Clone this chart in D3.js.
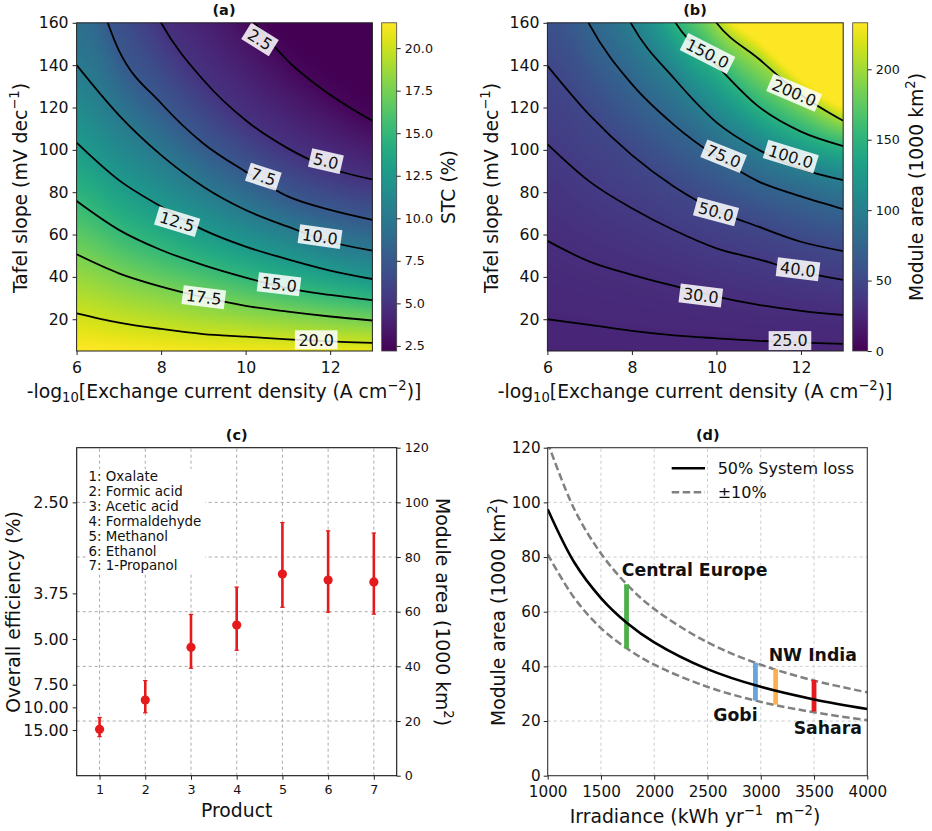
<!DOCTYPE html>
<html>
<head>
<meta charset="utf-8">
<script src="https://cdnjs.cloudflare.com/ajax/libs/d3/7.8.5/d3.min.js"></script>
<style>
  html, body { margin: 0; padding: 0; background: #fff; }
  svg { display: block; }
  text { font-family: "DejaVu Sans", sans-serif; fill: #111; }
  .axis path, .axis line { stroke: #222; stroke-width: 1; }
</style>
</head>
<body>
<svg id="chart" width="932" height="831"></svg>
<script>
// contour positions: Tafel slope at each exchange current
var exchange = [6, 7, 8, 9, 10, 11, 12, 13];

var stcEdgeTop = [0, 0, 0, 0, 0, 0, 0, 0];
var stc200 = [22.8, 18.4, 15.4, 13, 11.8, 10.5, 9.5, 8.8];
var stc175 = [50.7, 41.7, 35.4, 30.4, 26.3, 23.6, 21.3, 19.4];
var stc150 = [75.8, 62.2, 52.7, 45.6, 39.7, 34.6, 31.5, 29];
var stc125 = [103.4, 85.7, 73.2, 62.2, 54.3, 48.3, 43, 39];
var stc100 = [140, 116.4, 97.5, 82.6, 71.6, 63.7, 56.6, 52.4];
var stc75 = [205, 147, 122, 103, 89.7, 78, 71.6, 66.9];
var stc50 = [255, 205, 160, 133, 114, 100.7, 91.3, 86];
var stc25 = [330, 280, 235, 200, 166, 142, 126, 113.7];
var stcEdgeLow = [345, 295, 250, 215, 181, 157, 141, 127];

var stcLevels = [22, 20, 17.5, 15, 12.5, 10, 7.5, 5, 2.5, 2.2];
var stcLines = [stcEdgeTop, stc200, stc175, stc150, stc125, stc100, stc75, stc50, stc25, stcEdgeLow];
var stcLabelAt = [null, 11.67, 9.01, 10.79, 8.38, 11.76, 10.42, 11.9, 10.34, null];
var stcLabelY = [null, 10.3, 30.4, 36.5, 66.1, 59, 87.3, 94.7, 152.1, null];
var stcLabelAngle = [null, 0, 7, 7, 17, 8, 18, 13, 32, null];
var stcTicks = [2.5, 5, 7.5, 10, 12.5, 15, 17.5, 20];

var areaEdgeLow = [0, 0, 0, 0, 0, 0, 0, 0];
var area25 = [20, 17.3, 14.5, 12.4, 11, 9.8, 9, 8.4];
var area30 = [57, 47.2, 41, 35.7, 30.7, 26.8, 24, 22];
var area40 = [102.7, 85, 72.4, 62, 53.5, 48.3, 42.5, 38.6];
var area50 = [139.7, 116.4, 97.5, 82.6, 71.3, 63.7, 56.6, 52.2];
var area75 = [205, 159, 131, 111.7, 96.8, 85, 78, 72];
var area100 = [250, 205, 159, 133.7, 113, 100, 91, 85.7];
var area150 = [310, 260, 205, 161, 140, 120.4, 108.6, 101.8];
var area200 = [330, 280, 235, 195, 160, 143, 126, 113.7];
var areaEdgeHigh = [342, 292, 247, 207, 168, 151, 133, 120];

var areaLevels = [22.7, 25, 30, 40, 50, 75, 100, 150, 200, 233];
var areaLines = [areaEdgeLow, area25, area30, area40, area50, area75, area100, area150, area200, areaEdgeHigh];
var areaLabelAt = [null, 11.74, 9.63, 11.93, 9.99, 10.17, 11.76, 9.79, 11.84, null];
var areaLabelY = [null, 9.9, 31.2, 43.6, 70.8, 97, 96.8, 145.5, 127, null];
var areaLabelAngle = [null, 0, 7, 7, 15, 22, 17, 27, 23, null];
var areaTicks = [0, 50, 100, 150, 200];

var products = [1, 2, 3, 4, 5, 6, 7];
var productNames = ['1: Oxalate', '2: Formic acid', '3: Acetic acid', '4: Formaldehyde', '5: Methanol', '6: Ethanol', '7: 1-Propanol'];
var productArea = [17, 27.7, 47, 55.1, 73.8, 71.6, 70.9];
var productHigh = [21.3, 34.8, 59, 69, 92.6, 89.6, 88.8];
var productLow = [14.3, 23, 39.3, 45.9, 61.6, 59.8, 59.1];
var efficiencyLabels = ['2.50', '3.75', '5.00', '7.50', '10.00', '15.00'];
var efficiencyAreas = [100, 66.7, 50, 33.3, 25, 16.7];

var irradiance = [1000, 1250, 1500, 1750, 2000, 2500, 3000, 3500, 4000];
var lossMid = [97.5, 78, 65, 55.7, 48.8, 39, 32.5, 27.9, 24.4];
var lossHigh = [121.9, 97.5, 81.3, 69.7, 61, 48.8, 40.6, 34.8, 30.5];
var lossLow = [81, 65, 54, 46.4, 40.6, 32.5, 27, 23.2, 20.3];

var regions = ['Central Europe', 'Gobi', 'NW India', 'Sahara'];
var regionIrradiance = [1740, 2950, 3140, 3500];
var regionHigh = [70, 41.3, 39, 35];
var regionLow = [46.5, 27.5, 26, 23.5];
var regionColors = ['#4daf4a', '#65a5dc', '#fdb050', '#e41a1c'];
var regionLabelX = [1695, 2554, 3074, 3309];
var regionLabelY = [73.2, 20, 42, 15.1];

var labelSize = 18.8;
var svg = d3.select('#chart');

// rich text: [string, 'sup' | 'sub' | undefined]
var putLabel = function(x, y, rotate, size, parts, weight) {
    var t = svg.append('text')
        .attr('transform', 'translate(' + x + ',' + y + ') rotate(' + rotate + ')')
        .attr('text-anchor', 'middle')
        .style('font-size', size + 'px');
    if (weight) t.style('font-weight', weight);
    var shift = 0;
    parts.forEach(function(p) {
        var want = p[1] === 'sup' ? -size * 0.42 : p[1] === 'sub' ? size * 0.22 : 0;
        var span = t.append('tspan').text(p[0]).attr('dy', want - shift);
        if (p[1]) span.style('font-size', (size * 0.7) + 'px');
        shift = want;
    });
    return t;
};

var styleAxis = function(g, size) {
    g.attr('class', 'axis');
    g.selectAll('text').style('font-size', size + 'px');
    return g;
};

// same spline as d3.curveCatmullRom.alpha(0), for reading a contour between columns
var splineAt = function(line, xv) {
    var u = Math.max(0, Math.min(line.length - 1.0001, xv - exchange[0]));
    var i = Math.floor(u), t = u - i;
    var p0 = line[Math.max(i - 1, 0)], p1 = line[i], p2 = line[i + 1], p3 = line[Math.min(i + 2, line.length - 1)];
    return 0.5 * (2 * p1 + (p2 - p0) * t + (2 * p0 - 5 * p1 + 4 * p2 - p3) * t * t + (3 * p1 - p0 - 3 * p2 + p3) * t * t * t);
};

var heatPanel = function(opt) {
    var x = d3.scaleLinear().domain([6, 13]).range([opt.left, opt.left + 295.8]);
    var y = d3.scaleLinear().domain([5, 160]).range([351, 22.8]);
    var color = d3.scaleSequential(d3.interpolateViridis).domain(opt.range);

    // paint the field into a canvas, with a margin so the blur keeps solid edges
    var w = 296, h = 328, pad = 12;
    var canvas = document.createElement('canvas');
    canvas.width = w + pad * 2;
    canvas.height = h + pad * 2;
    var ctx = canvas.getContext('2d');
    var img = ctx.createImageData(canvas.width, canvas.height);
    for (var i = 0; i < canvas.width; i++) {
        var xv = 6 + 7 * (i - pad + 0.5) / w;
        var ys = opt.lines.map(function(l) { return splineAt(l, xv); });
        var field = d3.scaleLinear().domain(ys).range(opt.levels).clamp(true);
        for (var j = 0; j < canvas.height; j++) {
            var yv = 160 - 155 * (j - pad + 0.5) / h;
            var c = d3.rgb(color(Math.max(opt.range[0], Math.min(opt.range[1], field(yv)))));
            var k = (j * canvas.width + i) * 4;
            img.data[k] = c.r;
            img.data[k + 1] = c.g;
            img.data[k + 2] = c.b;
            img.data[k + 3] = 255;
        }
    }
    ctx.putImageData(img, 0, 0);

    var smooth = document.createElement('canvas');
    smooth.width = w;
    smooth.height = h;
    var sctx = smooth.getContext('2d');
    sctx.filter = 'blur(' + opt.blur + 'px)';
    sctx.drawImage(canvas, -pad, -pad);

    svg.append('image')
        .attr('x', x(6)).attr('y', y(160))
        .attr('width', x(13) - x(6)).attr('height', y(5) - y(160))
        .attr('preserveAspectRatio', 'none')
        .attr('href', smooth.toDataURL());

    var clipId = 'clip' + opt.name;
    svg.append('clipPath').attr('id', clipId).append('rect')
        .attr('x', x(6)).attr('y', y(160))
        .attr('width', x(13) - x(6)).attr('height', y(5) - y(160));

    var holder = svg.append('g').attr('clip-path', 'url(#' + clipId + ')');
    var line = d3.line()
        .x(function(d, i) { return x(exchange[i]); })
        .y(function(d) { return y(d); })
        .curve(d3.curveCatmullRom.alpha(0));

    opt.lines.forEach(function(l, n) {
        if (opt.labelAt[n] === null) return;
        holder.append('path').attr('d', line(l))
            .attr('fill', 'none').attr('stroke', '#000').attr('stroke-width', 1.8);
    });

    opt.lines.forEach(function(l, n) {
        if (opt.labelAt[n] === null) return;
        var g = holder.append('g')
            .attr('transform', 'translate(' + x(opt.labelAt[n]) + ',' + y(opt.labelY[n]) + ') rotate(' + opt.labelAngle[n] + ')');
        var rect = g.append('rect').attr('fill', '#fff').attr('opacity', 0.86);
        var t = g.append('text').text(d3.format('.1f')(opt.levels[n]))
            .attr('text-anchor', 'middle').attr('dy', '0.36em')
            .style('font-size', '16px').style('fill', '#111');
        var len = t.node().getComputedTextLength();
        rect.attr('x', -len / 2 - 3.5).attr('y', -9.5).attr('width', len + 7).attr('height', 19);
    });

    svg.append('rect').attr('x', x(6)).attr('y', y(160))
        .attr('width', x(13) - x(6)).attr('height', y(5) - y(160))
        .attr('fill', 'none').attr('stroke', '#222');

    svg.append('g').attr('transform', 'translate(0,351)')
        .call(d3.axisBottom(x).tickValues([6, 8, 10, 12]).tickFormat(d3.format('d')).tickSize(4).tickPadding(7))
        .call(styleAxis, 15.7).select('.domain').remove();
    svg.append('g').attr('transform', 'translate(' + x(6) + ',0)')
        .call(d3.axisLeft(y).tickValues([20, 40, 60, 80, 100, 120, 140, 160]).tickSize(4).tickPadding(4))
        .call(styleAxis, 15.7).select('.domain').remove();

    // colour bar
    var bar = d3.scaleLinear().domain(opt.range).range([351, 22.8]);
    var gradId = 'grad' + opt.name;
    var grad = svg.append('linearGradient').attr('id', gradId)
        .attr('x1', 0).attr('y1', 1).attr('x2', 0).attr('y2', 0);
    d3.range(0, 1.001, 0.05).forEach(function(f) {
        grad.append('stop').attr('offset', f)
            .attr('stop-color', color(opt.range[0] + f * (opt.range[1] - opt.range[0])));
    });
    svg.append('rect').attr('x', opt.barLeft).attr('y', 22.8).attr('width', 15).attr('height', 328.2)
        .attr('fill', 'url(#' + gradId + ')').attr('stroke', '#444').attr('stroke-width', 0.8);
    svg.append('g').attr('transform', 'translate(' + (opt.barLeft + 15) + ',0)')
        .call(d3.axisRight(bar).tickValues(opt.ticks).tickFormat(d3.format(opt.tickFormat)).tickSize(4).tickPadding(4))
        .call(styleAxis, 12.7).select('.domain').remove();
};

heatPanel({
    name: 'a', left: 76.6, barLeft: 381.7, range: [2.2, 21.49], blur: 3,
    levels: stcLevels, lines: stcLines, labelAt: stcLabelAt, labelY: stcLabelY, labelAngle: stcLabelAngle,
    ticks: stcTicks, tickFormat: '.1f'
});
heatPanel({
    name: 'b', left: 547.4, barLeft: 852.7, range: [0, 233], blur: 2,
    levels: areaLevels, lines: areaLines, labelAt: areaLabelAt, labelY: areaLabelY, labelAngle: areaLabelAngle,
    ticks: areaTicks, tickFormat: 'd'
});

var xLabelParts = [['-log'], ['10', 'sub'], ['[Exchange current density (A cm'], ['\u22122', 'sup'], [')]']];
var yLabelParts = [['Tafel slope (mV dec'], ['\u22121', 'sup'], [')']];
var kmParts = [['Module area (1000 km'], ['2', 'sup'], [')']];

putLabel(224, 15, 0, 14.5, [['(a)']], 'bold');
putLabel(695, 15, 0, 14.5, [['(b)']], 'bold');
putLabel(224, 398, 0, labelSize, xLabelParts);
putLabel(695, 398, 0, labelSize, xLabelParts);
putLabel(27, 188, -90, labelSize, yLabelParts);
putLabel(498, 188, -90, labelSize, yLabelParts);
putLabel(455, 187, -90, labelSize, [['STC (%)']]);
putLabel(923, 187, -90, labelSize, kmParts);

// panel c
var cx = d3.scaleLinear().domain([0.5, 7.5]).range([76.7, 396.7]);
var cy = d3.scaleLinear().domain([0, 120]).range([775.7, 447.7]);

svg.append('g').selectAll('line').data(products).enter().append('line')
    .attr('x1', function(d) { return cx(d); }).attr('x2', function(d) { return cx(d); })
    .attr('y1', cy(0)).attr('y2', cy(120))
    .attr('stroke', '#aaa').attr('stroke-dasharray', '3,3');
svg.append('g').selectAll('line').data([20, 40, 60, 80, 100]).enter().append('line')
    .attr('x1', cx(0.5)).attr('x2', cx(7.5))
    .attr('y1', function(d) { return cy(d); }).attr('y2', function(d) { return cy(d); })
    .attr('stroke', '#aaa').attr('stroke-dasharray', '3,3');

svg.append('rect').attr('x', 86).attr('y', 469).attr('width', 119).attr('height', 105).attr('fill', '#fff');
svg.append('g').selectAll('text').data(productNames).enter().append('text')
    .attr('x', 88.5)
    .attr('y', function(d, i) { return 481 + i * 14.9; })
    .style('font-size', '13.4px')
    .text(function(d) { return d; });

var errors = svg.append('g').selectAll('g').data(products).enter().append('g');
errors.append('line')
    .attr('x1', function(d) { return cx(d); }).attr('x2', function(d) { return cx(d); })
    .attr('y1', function(d, i) { return cy(productLow[i]); })
    .attr('y2', function(d, i) { return cy(productHigh[i]); })
    .attr('stroke', '#e41a1c').attr('stroke-width', 2.6);
errors.selectAll('.cap')
    .data(function(d, i) { return [[d, productLow[i]], [d, productHigh[i]]]; })
    .enter().append('line').attr('class', 'cap')
    .attr('x1', function(d) { return cx(d[0]) - 2.2; }).attr('x2', function(d) { return cx(d[0]) + 2.2; })
    .attr('y1', function(d) { return cy(d[1]); }).attr('y2', function(d) { return cy(d[1]); })
    .attr('stroke', '#e41a1c').attr('stroke-width', 1.2);
errors.append('circle')
    .attr('cx', function(d) { return cx(d); })
    .attr('cy', function(d, i) { return cy(productArea[i]); })
    .attr('r', 4.6).attr('fill', '#e41a1c');

svg.append('rect').attr('x', cx(0.5)).attr('y', cy(120))
    .attr('width', cx(7.5) - cx(0.5)).attr('height', cy(0) - cy(120))
    .attr('fill', 'none').attr('stroke', '#111').attr('stroke-width', 1.1);

svg.append('g').attr('transform', 'translate(0,' + cy(0) + ')')
    .call(d3.axisBottom(cx).tickValues(products).tickFormat(d3.format('d')).tickSize(4).tickPadding(5))
    .call(styleAxis, 12.7).select('.domain').remove();
svg.append('g').attr('transform', 'translate(' + cx(0.5) + ',0)')
    .call(d3.axisLeft(cy).tickValues(efficiencyAreas)
        .tickFormat(function(d, i) { return efficiencyLabels[i]; }).tickSize(4).tickPadding(4))
    .call(styleAxis, 15.9).select('.domain').remove();
svg.append('g').attr('transform', 'translate(' + cx(7.5) + ',0)')
    .call(d3.axisRight(cy).tickValues([0, 20, 40, 60, 80, 100, 120]).tickSize(4).tickPadding(4))
    .call(styleAxis, 12.7).select('.domain').remove();

putLabel(236.7, 440, 0, 14.5, [['(c)']], 'bold');
putLabel(236.7, 817, 0, labelSize, [['Product']]);
putLabel(20, 612, -90, labelSize, [['Overall efficiency (%)']]);
putLabel(436, 612, 90, labelSize, kmParts);

// panel d
var dx = d3.scaleLinear().domain([1000, 4000]).range([547.7, 867.3]);
var dy = d3.scaleLinear().domain([0, 120]).range([775.7, 447.7]);

svg.append('g').selectAll('line').data([1500, 2000, 2500, 3000, 3500]).enter().append('line')
    .attr('x1', function(d) { return dx(d); }).attr('x2', function(d) { return dx(d); })
    .attr('y1', dy(0)).attr('y2', dy(120))
    .attr('stroke', '#ccc').attr('stroke-dasharray', '3,3');
svg.append('g').selectAll('line').data([20, 40, 60, 80, 100]).enter().append('line')
    .attr('x1', dx(1000)).attr('x2', dx(4000))
    .attr('y1', function(d) { return dy(d); }).attr('y2', function(d) { return dy(d); })
    .attr('stroke', '#ccc').attr('stroke-dasharray', '3,3');

svg.append('clipPath').attr('id', 'clipd').append('rect')
    .attr('x', dx(1000)).attr('y', dy(120)).attr('width', dx(4000) - dx(1000)).attr('height', dy(0) - dy(120));

var lossLine = d3.line()
    .x(function(d, i) { return dx(irradiance[i]); })
    .y(function(d) { return dy(d); })
    .curve(d3.curveCatmullRom.alpha(0.5));
var curves = svg.append('g').attr('clip-path', 'url(#clipd)');

[lossHigh, lossLow].forEach(function(s) {
    curves.append('path').attr('d', lossLine(s)).attr('fill', 'none')
        .attr('stroke', '#808080').attr('stroke-width', 2.5).attr('stroke-dasharray', '7.5,3.5');
});
curves.selectAll('.region').data(regions).enter().append('line').attr('class', 'region')
    .attr('x1', function(d, i) { return dx(regionIrradiance[i]); })
    .attr('x2', function(d, i) { return dx(regionIrradiance[i]); })
    .attr('y1', function(d, i) { return dy(regionLow[i]); })
    .attr('y2', function(d, i) { return dy(regionHigh[i]); })
    .attr('stroke', function(d, i) { return regionColors[i]; })
    .attr('stroke-width', 4.8);
curves.append('path').attr('d', lossLine(lossMid)).attr('fill', 'none')
    .attr('stroke', '#000').attr('stroke-width', 2.6);

svg.append('g').selectAll('text').data(regions).enter().append('text')
    .attr('x', function(d, i) { return dx(regionLabelX[i]); })
    .attr('y', function(d, i) { return dy(regionLabelY[i]); })
    .style('font-size', '17.3px').style('font-weight', 'bold')
    .text(function(d) { return d; });

svg.append('line').attr('x1', 671.7).attr('x2', 705).attr('y1', 468.3).attr('y2', 468.3)
    .attr('stroke', '#000').attr('stroke-width', 2.6);
svg.append('line').attr('x1', 671.7).attr('x2', 705).attr('y1', 492.3).attr('y2', 492.3)
    .attr('stroke', '#808080').attr('stroke-width', 2.5).attr('stroke-dasharray', '7.5,3.5');
svg.append('text').attr('x', 717.7).attr('y', 474).style('font-size', '16px').text('50% System loss');
svg.append('text').attr('x', 717.7).attr('y', 498).style('font-size', '16px').text('\u00b110%');

svg.append('rect').attr('x', dx(1000)).attr('y', dy(120))
    .attr('width', dx(4000) - dx(1000)).attr('height', dy(0) - dy(120))
    .attr('fill', 'none').attr('stroke', '#333').attr('stroke-width', 1.1);

svg.append('g').attr('transform', 'translate(0,' + dy(0) + ')')
    .call(d3.axisBottom(dx).tickValues([1000, 1500, 2000, 2500, 3000, 3500, 4000]).tickFormat(d3.format('d')).tickSize(4).tickPadding(7))
    .call(styleAxis, 15.2).select('.domain').remove();
svg.append('g').attr('transform', 'translate(' + dx(1000) + ',0)')
    .call(d3.axisLeft(dy).tickValues([0, 20, 40, 60, 80, 100, 120]).tickSize(4).tickPadding(3))
    .call(styleAxis, 15.2).select('.domain').remove();

putLabel(707.7, 440, 0, 14.5, [['(d)']], 'bold');
putLabel(695, 823, 0, labelSize, [['Irradiance (kWh yr'], ['\u22121', 'sup'], ['\u00a0\u00a0m'], ['\u22122', 'sup'], [')']]);
putLabel(505, 612, -90, labelSize, kmParts);
</script>
</body>
</html>
